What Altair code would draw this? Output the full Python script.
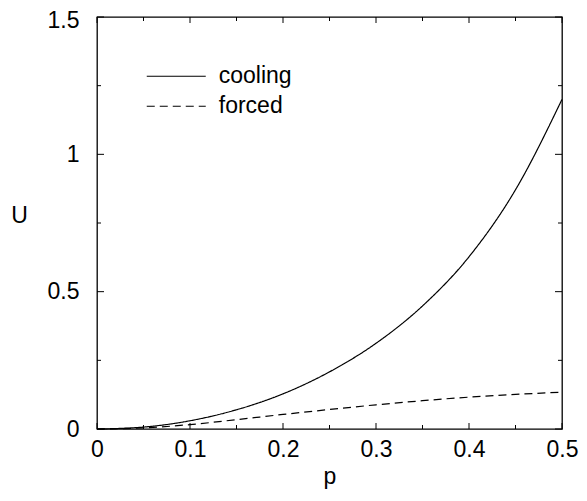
import altair as alt
import pandas as pd

# ---- data ----
p_vals = [0.0, 0.05, 0.1, 0.15, 0.2, 0.25, 0.3, 0.35, 0.4, 0.45, 0.5]
cooling = [0.0, 0.007, 0.030, 0.070, 0.128, 0.208, 0.312, 0.448, 0.627, 0.871, 1.20]
forced = [0.0, 0.004, 0.016, 0.034, 0.053, 0.071, 0.088, 0.103, 0.116, 0.126, 0.134]
series_names = ["cooling", "forced"]

x_major = [0.0, 0.1, 0.2, 0.3, 0.4, 0.5]
x_minor = [0.05, 0.15, 0.25, 0.35, 0.45]
y_major = [0.0, 0.5, 1.0, 1.5]
y_minor = [0.25, 0.75, 1.25]

W, H = 465, 412
FONT = "Liberation Sans"
FS = 23

rows = []
for i, p in enumerate(p_vals):
    rows.append({"p": p, "U": cooling[i], "series": series_names[0]})
    rows.append({"p": p, "U": forced[i], "series": series_names[1]})
df = pd.DataFrame(rows)

xscale = alt.Scale(domain=[0, 0.5], nice=False, zero=False)
yscale = alt.Scale(domain=[0, 1.5], nice=False, zero=False)

lines = alt.Chart(df).mark_line(color="black", strokeWidth=1.2, interpolate="monotone").encode(
    x=alt.X("p:Q", scale=xscale, title="p",
            axis=alt.Axis(values=x_major, format="~g", tickSize=0, domain=False, grid=False,
                          labelFlush=False, labelPadding=9, titlePadding=4)),
    y=alt.Y("U:Q", scale=yscale, title="U",
            axis=alt.Axis(values=y_major, format="~g", tickSize=0, domain=False, grid=False,
                          labelFlush=False, labelPadding=18,
                          labelOffset={"condition": {"test": "datum.value >= 1.4", "value": 3}, "value": 0},
                          titleAngle=0, titleX=-78, titleY=198,
                          titleAlign="center", titleBaseline="middle")),
    strokeDash=alt.StrokeDash("series:N",
        scale=alt.Scale(domain=series_names, range=[[1, 0], [8, 5]]),
        legend=alt.Legend(title=None, orient="none", legendX=63.75, legendY=43.75,
                          symbolType="M-2,0H2", symbolSize=870.25, symbolStrokeWidth=1.2,
                          symbolStrokeColor="black", symbolFillColor="transparent",
                          labelFont=FONT, labelFontSize=FS,
                          labelColor="black", labelOffset=27, padding=0, rowPadding=2)),
    detail="series:N",
)

xt_major = pd.DataFrame({"v": x_major})
xt_minor = pd.DataFrame({"v": x_minor})
yt_major = pd.DataFrame({"v": y_major})
yt_minor = pd.DataFrame({"v": y_minor})

def xticks(d, L):
    b = alt.Chart(d).mark_rule(color="black", strokeWidth=1).encode(
        x=alt.X("v:Q", scale=xscale), y=alt.value(H), y2=alt.value(H - L))
    t = alt.Chart(d).mark_rule(color="black", strokeWidth=1).encode(
        x=alt.X("v:Q", scale=xscale), y=alt.value(0), y2=alt.value(L))
    return b + t

def yticks(d, L):
    l = alt.Chart(d).mark_rule(color="black", strokeWidth=1).encode(
        y=alt.Y("v:Q", scale=yscale), x=alt.value(0), x2=alt.value(L))
    r = alt.Chart(d).mark_rule(color="black", strokeWidth=1).encode(
        y=alt.Y("v:Q", scale=yscale), x=alt.value(W), x2=alt.value(W - L))
    return l + r

chart = alt.layer(
    xticks(xt_major, 6), xticks(xt_minor, 4), yticks(yt_major, 7), yticks(yt_minor, 4), lines
).properties(
    width=W, height=H,
    autosize=alt.AutoSizeParams(type="none"),
    padding={"left": 89, "top": 9, "right": 17, "bottom": 64},
).configure_view(
    stroke="black", strokeWidth=1.3
).configure_axis(
    labelFont=FONT, labelFontSize=FS, labelColor="black",
    titleFont=FONT, titleFontSize=FS, titleColor="black", titleFontWeight="normal",
)

chart.save("out.html", embed_options={"renderer": "svg", "actions": False})
